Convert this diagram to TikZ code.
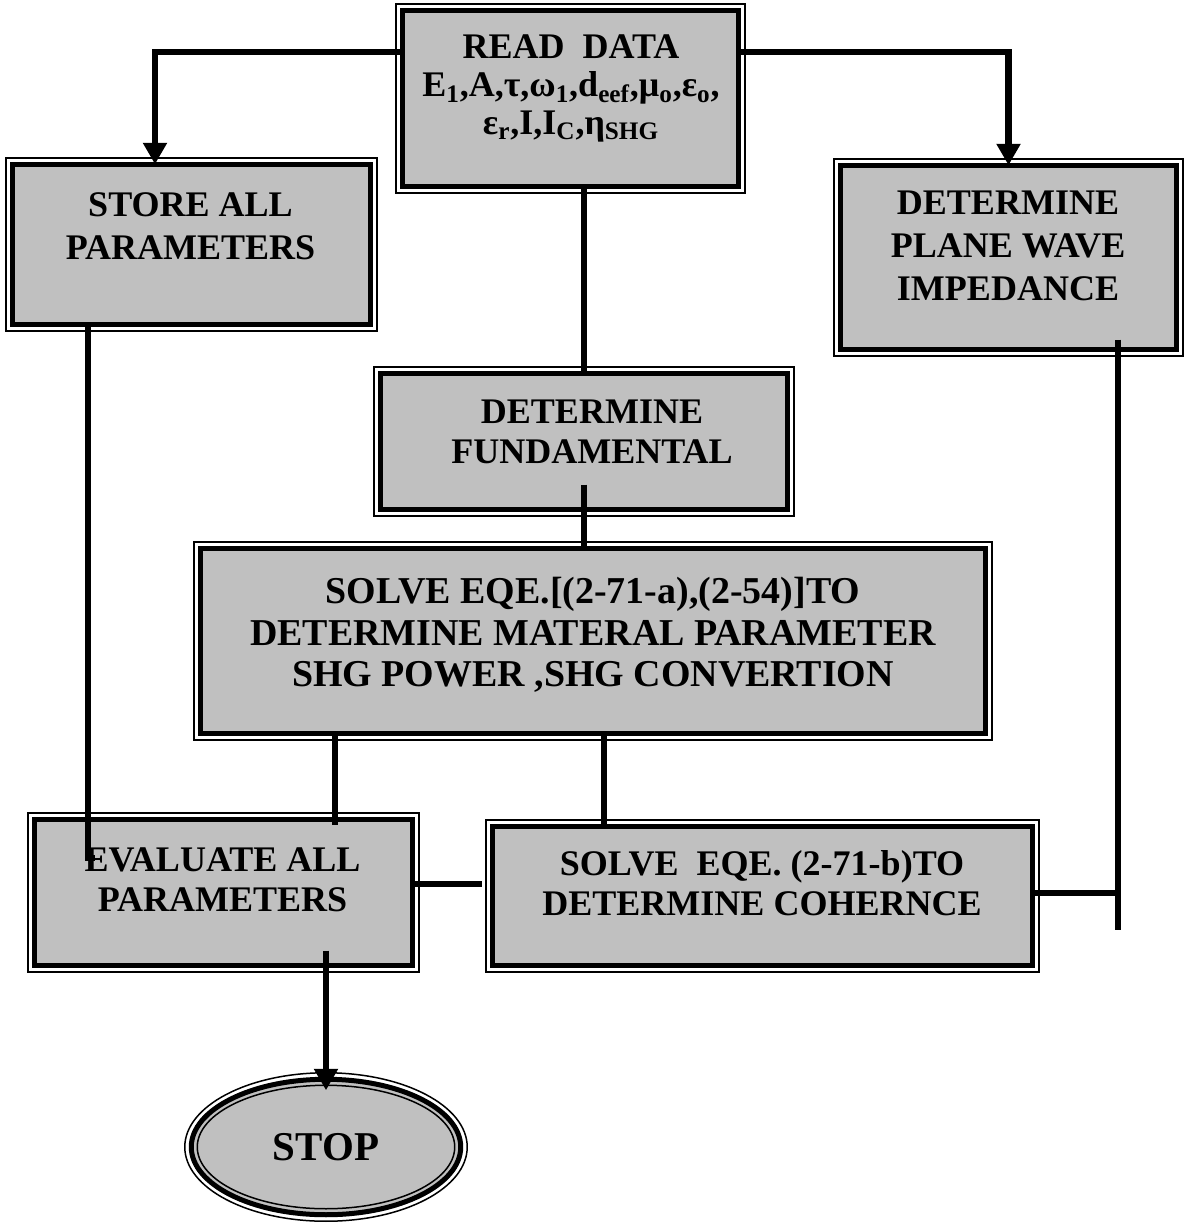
\documentclass[tikz,border=0pt]{standalone}
\usepackage{fontspec}
\setmainfont{Liberation Serif}
\usetikzlibrary{positioning, shapes.geometric, arrows.meta}
\definecolor{boxgray}{RGB}{192,192,192}

\begin{document}
\begin{tikzpicture}[
  x=0.02cm, y=-0.02cm,
  tbox/.style={rectangle, draw=black, line width=0.1cm, fill=boxgray, inner sep=0pt, outer sep=0pt,
    append after command={\pgfextra{
      \draw[line width=0.03cm, fill=none] ([shift={(0.12cm,0.12cm)}]\tikzlastnode.south west) rectangle ([shift={(-0.12cm,-0.12cm)}]\tikzlastnode.north east);
      \draw[line width=0.03cm, fill=none] ([shift={(-0.13cm,-0.13cm)}]\tikzlastnode.south west) rectangle ([shift={(0.13cm,0.13cm)}]\tikzlastnode.north east);
    }}},
  stopshape/.style={ellipse, draw=black, line width=0.1cm, fill=boxgray, inner sep=0pt, outer sep=0pt,
    minimum width=5.39cm, minimum height=2.71cm, font=\fontsize{23.3}{26}\selectfont\bfseries},
  txt/.style={font=\fontsize{20.5}{23}\selectfont\bfseries, align=center, inner sep=0pt},
  conn/.style={line width=0.13cm},
  arr/.style={conn, -{Triangle[length=0.43cm, width=0.46cm]}}
]
\useasboundingbox (0,0) rectangle (1187,1223);

% Boxes
\node[tbox, minimum width=6.73cm, minimum height=3.53cm] (read) at (570.5,98.5) {};
\node[tbox, minimum width=7.17cm, minimum height=3.21cm] (store) at (191.5,244.5) {};
\node[tbox, minimum width=6.73cm, minimum height=3.69cm] (plane) at (1008.5,257.5) {};
\node[tbox, minimum width=8.15cm, minimum height=2.73cm] (fund) at (584,441.5) {};
\node[tbox, minimum width=15.71cm, minimum height=3.71cm] (solve) at (593,641) {};
\node[tbox, minimum width=7.57cm, minimum height=2.93cm] (eval) at (223.5,892.5) {};
\node[tbox, minimum width=10.81cm, minimum height=2.79cm] (solveb) at (762.5,896) {};

% Stop
\node[stopshape] (stop) at (326,1147) {STOP};
\draw[line width=0.03cm] (stop.center) ellipse [x radius=2.575cm, y radius=1.235cm];
\draw[line width=0.03cm] (stop.center) ellipse [x radius=2.825cm, y radius=1.485cm];

% Texts
\node[txt, font=\fontsize{20.5}{21.4}\selectfont\bfseries] (readt) at (571,88.5)
  {READ\ \ DATA\\E\textsubscript{1},A,τ,ω\textsubscript{1},d\textsubscript{eef},μ\textsubscript{o},ε\textsubscript{o},\\ε\textsubscript{r},I,I\textsubscript{C},η\textsubscript{SHG}};
\node[txt, font=\fontsize{20.5}{24.5}\selectfont\bfseries] (storet) at (190.5,226.5) {STORE ALL\\PARAMETERS};
\node[txt, font=\fontsize{20.5}{24.5}\selectfont\bfseries] (planet) at (1008,246) {DETERMINE\\PLANE WAVE\\IMPEDANCE};
\node[txt] (fundt) at (592,432) {DETERMINE\\FUNDAMENTAL};
\node[txt, font=\fontsize{21.6}{23.5}\selectfont\bfseries] (solvet) at (593,635) {SOLVE EQE.[(2-71-a),(2-54)]TO\\DETERMINE MATERAL PARAMETER\\SHG POWER ,SHG CONVERTION};
\node[txt] (evalt) at (222.5,880) {EVALUATE ALL\\PARAMETERS};
\node[txt] (solvebt) at (762,883) {SOLVE\ \ EQE. (2-71-b)TO\\DETERMINE COHERNCE};

% Connectors
\coordinate (evalin) at (95,858);
\coordinate (tail) at (1118,930);
\draw[arr] (read.west |- 0,52) -| (store.north -| 155,0);
\draw[arr] (read.east |- 0,52) -| (plane.north);
\draw[conn] (read.south -| fund.north) -- (fund.north);
\draw[conn] ([yshift=0.5cm]fund.south) -- (fund.south |- solve.north);
\draw[conn] (store.south -| 88,0) |- (evalin);
\draw[conn] (solve.south -| 335,0) -- ([yshift=-0.12cm]eval.north -| 335,0);
\draw[conn] (solve.south -| 604,0) -- (solveb.north -| 604,0);
\draw[conn] (eval.east |- 0,884) -- ([xshift=-0.2cm]solveb.west |- 0,884);
\draw[conn] ([yshift=0.2cm]plane.south -| 1118,0) -- (tail);
\draw[conn] (solveb.east |- 0,893) -- (tail |- 0,893);
\draw[arr] ([yshift=0.3cm]eval.south -| stop.north) -- ([yshift=-0.22cm]stop.north);

\end{tikzpicture}
\end{document}
